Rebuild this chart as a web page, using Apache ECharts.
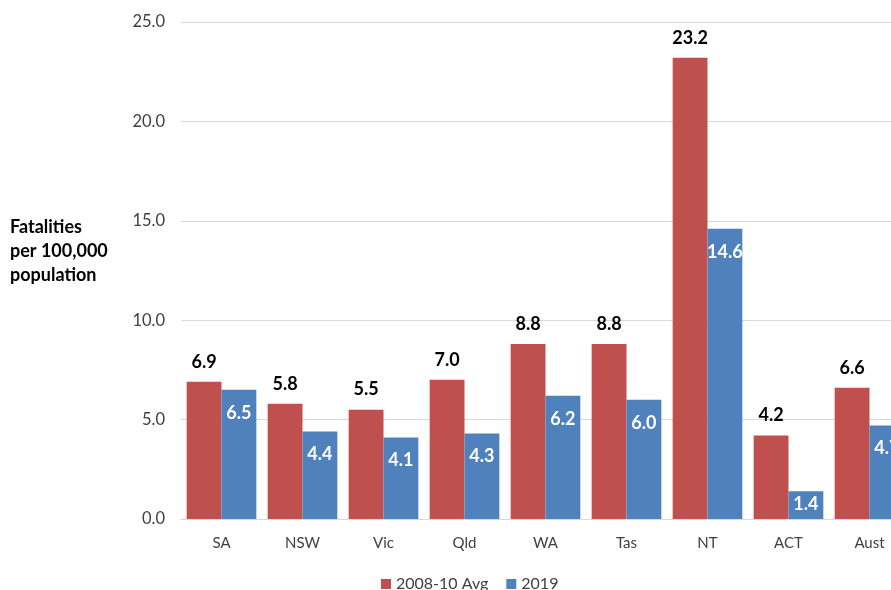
<!DOCTYPE html>
<html><head><meta charset="utf-8">
<script src="https://cdn.jsdelivr.net/npm/echarts@6/dist/echarts.min.js"></script>
<style>html,body{margin:0;padding:0;overflow:hidden;background:#fff;width:891px;height:590px}#c{width:930px;height:590px}</style>
</head><body><div id="c"></div>
<script>
const categories = ['SA','NSW','Vic','Qld','WA','Tas','NT','ACT','Aust'];
const avg0810 = [6.9,5.8,5.5,7.0,8.8,8.8,23.2,4.2,6.6];
const y2019 = [6.5,4.4,4.1,4.3,6.2,6.0,14.6,1.4,4.7];
const seriesNames = ['2008-10 Avg','2019'];
const yTitle = 'Fatalities\nper 100,000\npopulation';
const FONT = 'Lato, "Open Sans", sans-serif';
const chart = echarts.init(document.getElementById('c'));
chart.setOption({
  animation:false,
  grid:{left:181,right:20,top:22,bottom:71},
  legend:{left:376,top:571,itemWidth:10,itemHeight:10,itemGap:18,icon:'rect',
    textStyle:{fontFamily:FONT,fontSize:16,color:'#404040'}},
  xAxis:{type:'category',data:categories,
    axisLine:{lineStyle:{color:'#d9d9d9'}},axisTick:{show:false},
    axisLabel:{fontFamily:FONT,fontSize:15,color:'#404040',margin:17}},
  yAxis:{type:'value',min:0,max:25,interval:5,
    axisLabel:{fontFamily:FONT,fontSize:16.5,color:'#404040',margin:16,formatter:v=>v.toFixed(1)},
    splitLine:{lineStyle:{color:'#d9d9d9'}}},
  graphic:[{type:'text',left:10,top:215,style:{text:yTitle,font:'bold 18px '+FONT,fill:'#000',lineHeight:24}}],
  series:[
    {name:seriesNames[0],type:'bar',data:avg0810,barGap:'0%',barCategoryGap:'14%',
     itemStyle:{color:'#C0504D'},
     label:{show:true,position:'top',distance:11,fontFamily:FONT,fontSize:18,fontWeight:'bold',color:'#000',formatter:p=>p.value.toFixed(1)}},
    {name:seriesNames[1],type:'bar',
     data:y2019.map(v=>v<2?{value:v,label:{distance:4}}:v),
     itemStyle:{color:'#4F81BD'},
     label:{show:true,position:'insideTop',distance:14,fontFamily:FONT,fontSize:18,fontWeight:'bold',color:'#fff',formatter:p=>p.value.toFixed(1)}}
  ]
});
</script></body></html>
